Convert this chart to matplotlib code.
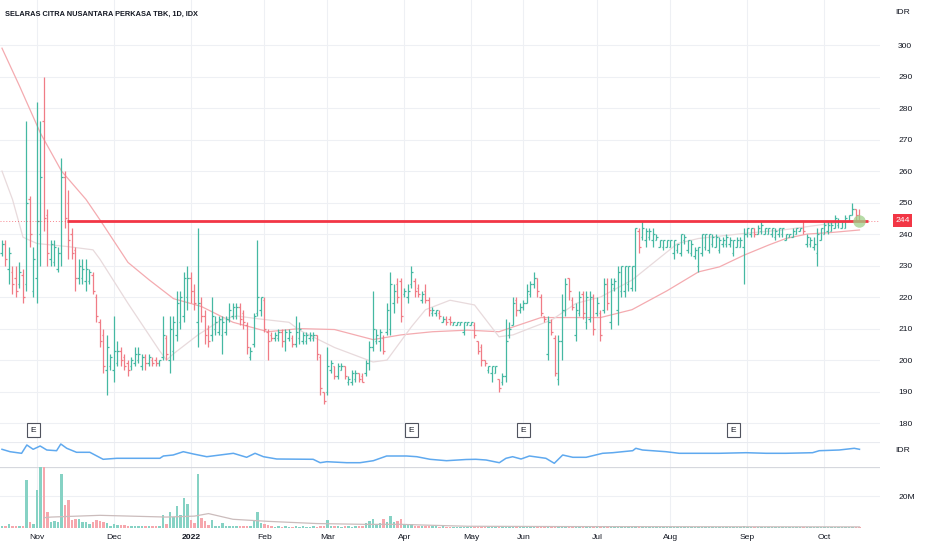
import matplotlib
matplotlib.use("Agg")
import matplotlib.pyplot as plt
import matplotlib.transforms as mtransforms
from matplotlib import font_manager as fm
import numpy as np

_names = {f.name for f in fm.fontManager.ttflist}
FONT = "Liberation Sans Narrow" if "Liberation Sans Narrow" in _names else "Liberation Sans"
plt.rcParams.update({"font.family": [FONT, "DejaVu Sans"], "font.size": 6.3})

TXT = "#131722"; GREEN = "#45b8a2"; RED = "#f07c86"; GRID = "#eef0f4"
VGREEN = "#86d2c4"; VRED = "#f6a7ad"; LEVEL = "#f23645"

TITLE = "SELARAS CITRA NUSANTARA PERKASA TBK, 1D, IDX"

# daily bars, index 0 = mid Oct 2021 ... 245 = mid Oct 2022
high = [238, 238, 236, 230, 230, 231, 229, 276, 252, 236, 282, 276, 290, 248, 238, 238, 236, 264, 260, 254,
        242, 236, 232, 232, 232, 229, 228, 221, 213, 210, 208, 202, 214, 206, 204, 202, 200, 201, 204, 204,
        202, 202, 202, 201, 201, 200, 214, 208, 214, 214, 222, 222, 228, 230, 228, 224, 242, 220, 216, 211,
        220, 214, 214, 214, 214, 218, 218, 218, 218, 216, 212, 204, 215, 238, 220, 220, 210, 209, 209, 210,
        210, 210, 210, 208, 214, 212, 209, 209, 209, 209, 208, 202, 190, 204, 200, 198, 199, 199, 198, 195,
        197, 197, 196, 196, 200, 206, 222, 210, 210, 208, 218, 228, 224, 226, 226, 223, 224, 230, 226, 224,
        222, 224, 220, 217, 216, 216, 214, 214, 214, 212, 212, 212, 212, 212, 212, 212, 206, 205, 200, 198,
        198, 198, 194, 196, 213, 212, 220, 220, 218, 219, 224, 225, 228, 226, 221, 214, 214, 213, 208, 208,
        221, 226, 226, 220, 218, 222, 222, 222, 222, 221, 220, 216, 226, 226, 226, 226, 230, 230, 230, 230,
        230, 242, 242, 244, 242, 242, 242, 240, 238, 238, 238, 238, 238, 237, 240, 240, 238, 238, 236, 236,
        240, 240, 240, 240, 240, 239, 239, 240, 239, 238, 239, 239, 242, 242, 242, 242, 243, 244, 242, 242,
        242, 242, 242, 242, 240, 240, 242, 242, 242, 244, 240, 239, 239, 242, 242, 244, 244, 244, 246, 245,
        244, 246, 246, 250, 248, 248]
low = [233, 230, 224, 221, 220, 223, 218, 222, 236, 220, 218, 230, 241, 230, 230, 230, 228, 230, 242, 232,
       232, 222, 224, 224, 222, 224, 221, 212, 204, 196, 189, 197, 193, 198, 198, 197, 195, 197, 198, 199,
       197, 197, 198, 198, 198, 198, 200, 200, 196, 200, 206, 210, 212, 216, 218, 216, 204, 212, 205, 204,
       206, 208, 208, 202, 208, 212, 213, 213, 211, 210, 202, 200, 204, 214, 214, 209, 200, 206, 206, 206,
       204, 203, 206, 204, 204, 205, 205, 205, 206, 206, 200, 189, 186, 189, 196, 194, 194, 197, 194, 192,
       192, 193, 193, 193, 195, 197, 203, 205, 203, 202, 208, 208, 215, 218, 212, 220, 218, 223, 220, 220,
       218, 218, 214, 214, 214, 213, 212, 211, 211, 211, 211, 211, 208, 211, 211, 207, 202, 198, 198, 196,
       193, 196, 190, 192, 193, 207, 211, 214, 215, 216, 218, 220, 223, 220, 214, 212, 200, 208, 195, 192,
       200, 214, 219, 216, 206, 214, 213, 210, 212, 208, 214, 206, 215, 216, 210, 222, 211, 220, 220, 222,
       222, 222, 234, 238, 236, 238, 236, 238, 236, 235, 236, 236, 232, 234, 233, 237, 234, 233, 232, 228,
       233, 235, 234, 236, 236, 234, 236, 236, 236, 233, 236, 236, 224, 239, 239, 239, 240, 240, 240, 240,
       239, 238, 239, 239, 238, 239, 239, 240, 241, 240, 236, 236, 235, 230, 238, 240, 240, 241, 242, 242,
       242, 242, 244, 246, 244, 244]
open_ = [234, 237, 229, 228, 226, 224, 227, 224, 251, 222, 226, 240, 276, 246, 232, 231, 229, 234, 258, 250,
         240, 235, 226, 226, 225, 225, 227, 220, 212, 208, 197, 198, 197, 199, 203, 201, 199, 198, 199, 200,
         198, 201, 199, 200, 200, 199, 201, 207, 200, 203, 208, 212, 214, 220, 226, 222, 212, 218, 214, 210,
         208, 210, 209, 208, 209, 213, 214, 214, 217, 215, 211, 201, 205, 215, 216, 219, 209, 208, 207, 207,
         209, 206, 207, 207, 205, 207, 206, 206, 207, 207, 208, 201, 190, 190, 197, 198, 195, 197, 198, 193,
         193, 194, 196, 195, 196, 199, 204, 206, 206, 207, 209, 210, 218, 224, 225, 221, 220, 224, 225, 223,
         219, 222, 219, 215, 215, 215, 212, 213, 213, 211, 211, 211, 209, 211, 211, 211, 206, 204, 200, 197,
         196, 196, 194, 193, 195, 208, 211, 219, 216, 217, 218, 221, 224, 226, 220, 214, 202, 212, 207, 194,
         206, 216, 226, 219, 208, 215, 221, 212, 213, 220, 215, 215, 216, 224, 212, 223, 216, 222, 222, 224,
         223, 230, 241, 239, 238, 239, 238, 238, 236, 236, 236, 236, 234, 235, 234, 238, 235, 234, 233, 230,
         234, 236, 235, 237, 236, 235, 237, 237, 237, 234, 236, 236, 236, 240, 240, 242, 240, 241, 240, 240,
         240, 239, 240, 240, 238, 239, 239, 240, 241, 244, 237, 237, 236, 234, 238, 240, 241, 241, 242, 243,
         242, 242, 244, 246, 248, 246]
close = [237, 232, 234, 224, 222, 228, 220, 250, 240, 232, 244, 258, 245, 234, 237, 236, 234, 258, 245, 238,
         234, 226, 230, 229, 229, 228, 222, 214, 206, 198, 204, 201, 203, 203, 200, 198, 197, 200, 202, 202,
         201, 199, 201, 199, 199, 200, 208, 202, 210, 212, 218, 220, 226, 226, 222, 218, 218, 214, 208, 206,
         214, 212, 213, 212, 213, 216, 217, 217, 213, 212, 204, 203, 214, 220, 220, 210, 206, 207, 208, 209,
         206, 209, 209, 205, 209, 210, 208, 208, 208, 208, 202, 191, 187, 198, 199, 195, 198, 198, 195, 194,
         196, 196, 194, 193, 199, 204, 210, 208, 209, 203, 216, 224, 222, 220, 214, 222, 222, 228, 222, 221,
         221, 219, 216, 216, 216, 214, 213, 212, 212, 212, 212, 212, 212, 212, 212, 208, 203, 200, 199, 198,
         198, 198, 191, 195, 206, 210, 218, 216, 217, 218, 222, 224, 226, 222, 215, 213, 212, 209, 196, 206,
         216, 224, 222, 217, 216, 220, 215, 220, 220, 210, 218, 208, 224, 218, 224, 225, 228, 230, 230, 230,
         230, 242, 236, 242, 241, 241, 240, 239, 238, 238, 238, 238, 238, 237, 240, 239, 238, 237, 235, 236,
         240, 240, 240, 239, 239, 238, 238, 239, 238, 238, 238, 238, 240, 242, 242, 240, 242, 243, 242, 242,
         242, 241, 242, 242, 240, 240, 241, 242, 242, 241, 239, 238, 237, 240, 242, 243, 243, 243, 245, 244,
         244, 245, 246, 248, 246, 244]
volume_m = [1.0, 1.2, 2.5, 1.0, 1.5, 1.2, 1.5, 30.0, 3.8, 2.5, 23.8, 40.0, 40.0, 9.9, 3.5, 4.4, 3.5, 34.3, 14.3, 17.9,
            4.8, 5.9, 5.9, 3.8, 3.8, 2.5, 3.8, 5.3, 4.2, 3.8, 2.9, 1.3, 2.5, 1.9, 1.7, 1.7, 1.3, 1.5, 1.3, 1.2,
            1.3, 1.2, 1.0, 1.2, 1.3, 1.5, 8.0, 2.5, 10.0, 7.0, 13.7, 8.0, 18.9, 15.4, 4.8, 2.9, 33.9, 6.1, 4.2, 1.9,
            4.8, 1.5, 1.5, 2.9, 1.5, 1.2, 1.5, 1.2, 1.5, 1.2, 1.5, 1.2, 4.8, 9.9, 2.9, 2.5, 1.9, 1.2, 0.8, 1.0,
            0.8, 1.0, 0.8, 0.8, 1.0, 0.8, 1.0, 0.8, 0.8, 1.0, 0.8, 1.5, 1.2, 5.3, 1.5, 1.2, 1.0, 0.8, 1.0, 1.0,
            0.8, 1.0, 1.2, 1.0, 2.9, 4.2, 5.9, 2.5, 3.4, 5.9, 3.8, 7.6, 3.8, 4.4, 5.5, 2.5, 1.9, 2.3, 1.3, 1.2,
            1.3, 1.2, 1.3, 1.0, 1.0, 0.8, 1.0, 0.8, 0.8, 0.6, 0.8, 0.6, 0.6, 0.6, 0.5, 0.7, 0.6, 0.5, 0.5, 0.6,
            0.5, 0.5, 0.7, 0.6, 1.4, 0.8, 0.7, 0.6, 0.5, 0.5, 0.8, 0.7, 0.6, 0.5, 0.6, 0.5, 0.6, 0.5, 0.7, 1.4,
            0.8, 0.6, 0.5, 0.5, 0.6, 0.5, 0.5, 0.6, 0.5, 0.5, 0.5, 0.6, 1.0, 0.6, 0.5, 0.5, 0.6, 0.5, 0.5, 0.5,
            0.6, 1.4, 0.7, 0.6, 0.5, 0.5, 0.6, 0.5, 0.5, 0.5, 0.5, 0.5, 0.6, 0.5, 0.5, 0.5, 0.5, 0.5, 0.5, 0.6,
            0.5, 0.5, 0.5, 0.5, 0.5, 0.5, 0.5, 0.5, 0.5, 0.6, 0.5, 0.5, 1.0, 0.5, 0.5, 0.6, 0.5, 0.5, 0.5, 0.5,
            0.5, 0.5, 0.5, 0.5, 0.5, 0.5, 0.5, 0.5, 0.5, 0.6, 0.5, 0.5, 0.5, 0.6, 0.5, 0.5, 0.5, 0.5, 0.6, 0.5,
            0.5, 0.5, 0.5, 0.6, 0.5, 0.5]

# moving averages (vertices at bar index)
ma_slow_x = [0, 5, 11, 17, 24, 28, 36, 42, 49, 57, 66, 76, 85, 95, 106, 114, 123, 133, 142, 154, 171, 180,
             190, 199, 205, 212, 219, 224, 230, 237, 245]
ma_slow = [299, 287, 272, 260, 251, 244.5, 231, 225.5, 219.5, 217, 212, 209, 210, 209.7, 206.5, 208, 209, 209.5,
           209, 213.5, 213.5, 216, 222, 228, 229.6, 233.3, 236.5, 238.6, 240, 240.5, 241.3]
ma_fast_x = [0, 3, 6, 10, 19, 26, 28, 36, 45, 47, 49, 56, 63, 67, 74, 82, 85, 95, 106, 110, 117, 121, 128,
             135, 142, 146, 152, 157, 164, 171, 180, 193, 199, 212, 223, 237, 245]
ma_fast = [260, 251, 239, 237, 236, 235, 232, 218, 203, 200, 202, 208, 213, 214, 213, 212, 209.5, 204, 199.4,
           200, 210.6, 216, 219, 217.5, 207.4, 208, 210.6, 212.7, 218, 220, 225.4, 237, 238.6, 240.2, 241.3,
           243.4, 244.4]
vol_ma_x = [12, 14, 28, 47, 55, 59, 66, 76, 90, 104, 114, 123, 133, 160, 200, 245]
vol_ma = [6.5, 6.9, 8.0, 6.9, 7.5, 9.1, 5.5, 4.2, 2.8, 2.3, 2.3, 1.7, 1.1, 0.9, 0.8, 0.7]

# comparison line in the small pane (arbitrary units)
ind_x = [0, 2.3, 5.6, 7.1, 8.9, 10.9, 12.8, 15.6, 16.8, 18.5, 21.3, 25.1, 28.9, 32.8, 37.5, 45.1, 46.1, 48.9,
         51.8, 54.7, 58.5, 66.1, 69.9, 72.3, 74.7, 78.5, 88.9, 90.9, 92.8, 98.5, 102.3, 106.1, 109.9, 115.6,
         118.5, 122.3, 127, 132.6, 135.4, 138.3, 142.1, 144, 145.9, 148.3, 150.7, 155.4, 157.8, 160.2, 163.1,
         166.9, 171.6, 174.5, 177.3, 180.2, 181.1, 183, 189.7, 193.5, 199.2, 204.9, 212.6, 218.3, 224, 231.6,
         233.5, 239.2, 243.5, 245]
ind_v = [20.7, 18.3, 16.7, 25, 20.7, 24, 20, 19.3, 26, 21.7, 17.7, 17.7, 10.7, 11.7, 11.7, 11.7, 14, 15,
         18.3, 16, 13.3, 16.7, 12.7, 16.7, 13.3, 11, 10.7, 7.3, 8.3, 7.3, 7.3, 9.3, 14, 14, 13.3, 10.7, 9.3,
         10.5, 10.7, 10, 7.3, 11.7, 13.3, 11, 14, 11.7, 6.7, 15, 12.7, 12.7, 16.7, 17.3, 18.3, 19.3, 21.7, 20,
         18.3, 16.7, 16.7, 16.7, 17.3, 16.7, 16.7, 17.3, 19.3, 20, 21.7, 20.7]

level = 244
earnings_idx = [9, 117, 149, 209]
month_pos = [10, 32, 54, 75, 93, 115, 134, 149, 170, 191, 213, 235]
month_lbl = ["Nov", "Dec", "2022", "Feb", "Mar", "Apr", "May", "Jun", "Jul", "Aug", "Sep", "Oct"]
price_ticks = [180, 190, 200, 210, 220, 230, 240, 250, 260, 270, 280, 290, 300]

W, H = 932, 550
def rect(l, t, r, b):
    return [l / W, 1 - b / H, (r - l) / W, (b - t) / H]

fig = plt.figure(figsize=(W / 100, H / 100), dpi=100)
ax = fig.add_axes(rect(0, 0, 880, 442))
axi = fig.add_axes(rect(0, 442, 880, 467), sharex=ax)
axv = fig.add_axes(rect(0, 467, 880, 528), sharex=ax)
for a in (ax, axi, axv):
    for s in a.spines.values():
        s.set_visible(False)
    a.tick_params(length=0, labelsize=6.1, colors=TXT)
    a.tick_params(axis="x", labelbottom=False)
    for m in month_pos:
        a.axvline(m, color=GRID, lw=0.8, zorder=0)

x = np.arange(len(high))
up = np.array(close) >= np.array(open_)
cols = np.where(up, GREEN, RED)

# price pane
ax.set_xlim(-0.57, 250.86)
ax.set_ylim(174, 314.3)
for p in price_ticks:
    ax.axhline(p, color=GRID, lw=0.8, zorder=0)
ax.plot(ma_slow_x, ma_slow, color="#f4abb0", lw=0.9, zorder=1)
ax.plot(ma_fast_x, ma_fast, color="#e8dadc", lw=0.9, zorder=1)
ax.vlines(x, low, high, colors=cols, lw=0.9, zorder=2)
ax.hlines(open_, x - 0.45, x, colors=cols, lw=0.9, zorder=2)
ax.hlines(close, x, x + 0.45, colors=cols, lw=0.9, zorder=2)
ax.hlines(level, 18.5, 247.5, color=LEVEL, lw=2.0, zorder=3)
ax.hlines(level, -0.57, 18.5, color=LEVEL, lw=0.7, ls=(0, (1, 2)), alpha=0.6, zorder=3)
ax.hlines(level, 247.5, 250.86, color=LEVEL, lw=0.7, ls=(0, (1, 2)), alpha=0.6, zorder=3)
ax.plot(x[-1], close[-1], "o", ms=9, mfc="#9fd08a", mec="none", alpha=0.75, zorder=4)
ax.set_yticks(price_ticks)
ax.yaxis.tick_right()
ax.tick_params(axis="y", pad=13)
trans = mtransforms.blended_transform_factory(ax.transData, ax.transAxes)
for e in earnings_idx:
    ax.text(e, 0.027, "E", transform=trans, ha="center", va="center", fontsize=6, color=TXT,
            bbox=dict(boxstyle="square,pad=0.4", fc="white", ec="#50535e", lw=0.8))

fig.text(5 / W, 1 - 14 / H, TITLE, fontsize=5.3, color=TXT, va="center", fontweight="bold")
fig.text(903 / W, 1 - 12 / H, "IDR", fontsize=6.1, color=TXT, va="center", ha="center")
fig.text(902.5 / W, 1 - 220.5 / H, str(level), fontsize=6.1, color="white", va="center", ha="center",
         bbox=dict(boxstyle="square,pad=0.3", fc=LEVEL, ec="none"))

# small comparison pane
axi.set_ylim(3, 28)
axi.set_yticks([])
axi.plot(ind_x, ind_v, color="#5fa9ef", lw=1.1)
axi.axhline(27.6, color="#e9ebf0", lw=0.8)
fig.text(903 / W, 1 - 451 / H, "IDR", fontsize=6.1, color=TXT, va="center", ha="center")

# volume pane
axv.set_ylim(0, 38.5)
axv.axhline(38.4, color="#d6d8de", lw=0.9)
axv.axhline(20, color=GRID, lw=0.8, zorder=0)
vcols = np.where(up, VGREEN, VRED)
axv.bar(x, volume_m, width=0.7, color=vcols, zorder=2)
axv.plot(vol_ma_x, vol_ma, color="#cbbcbc", lw=0.9, zorder=3)
axv.set_yticks([20])
axv.set_yticklabels(["20M"])
axv.yaxis.tick_right()
axv.tick_params(axis="y", pad=13)
axv.set_xticks(month_pos)
axv.set_xticklabels(month_lbl)
axv.tick_params(axis="x", labelbottom=True, pad=4)
for t in axv.get_xticklabels():
    if t.get_text() == "2022":
        t.set_fontweight("bold")

fig.savefig("out.png", dpi=100)
